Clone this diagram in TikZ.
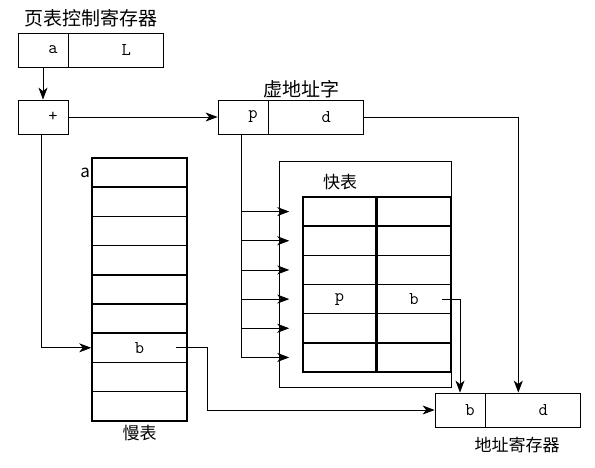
\documentclass[tikz,border=0pt]{standalone}
\usepackage{fontspec}
\newfontfamily\cjk{Noto Sans CJK SC}
\usetikzlibrary{arrows.meta,positioning}

\begin{document}
\begin{tikzpicture}[x=1pt,y=-1pt,>={Stealth[length=12pt,width=9pt,inset=3.5pt]},
  reg/.style={draw,line width=0.8pt,minimum height=34pt,inner sep=0pt},
  txt/.style={label={[font=\ttfamily\fontsize{18}{18}\selectfont,xshift=10pt]center:#1}},
  cell/.style={draw,line width=1.5pt,minimum width=95pt,minimum height=29.2pt,inner sep=0pt,font=\ttfamily\fontsize{18}{18}\selectfont},
  fcell/.style={cell,minimum width=73pt},
  caption/.style={font=\cjk\fontsize{17}{17}\selectfont},
  bigcaption/.style={font=\cjk\fontsize{19}{19}\selectfont},
  line/.style={line width=0.8pt}]
  \useasboundingbox (0,0) rectangle (595,467);

  % registers
  \node[reg,minimum width=50pt,txt=a] (reg-a) at (43,50) {};
  \node[reg,minimum width=95pt,txt=L] (reg-L) [right=0pt of reg-a] {};
  \node[bigcaption] (reg-cap) at (91,18) {页表控制寄存器};
  \node[reg,minimum width=50pt,txt=+] (plus) at (43,117) {};
  \node[reg,minimum width=50pt,txt=p] (va-p) at (243,117) {};
  \node[reg,minimum width=95pt,txt=d] (va-d) [right=0pt of va-p] {};
  \node[bigcaption] (va-cap) at (301,89) {虚地址字};
  \node[reg,minimum width=50pt,txt=b] (ar-b) at (460,410) {};
  \node[reg,minimum width=95pt,txt=d] (ar-d) [right=0pt of ar-b] {};
  \node[caption] (ar-cap) at (517,445) {地址寄存器};

  % slow table
  \foreach \i/\t in {1/,2/,3/,4/,5/,6/,7/b,8/,9/}
    \node[cell] (s\i) at (139.5,{158+29.2*(\i-0.5)}) {\t};
  \node[caption] (s-cap) [below=0pt of s9] {慢表};
  \node[caption,inner sep=1pt] (s-a) [left=0pt of s1] {a};

  % fast table
  \node[draw,line width=1pt,minimum width=172pt,minimum height=226pt] (fast) at (365,274) {};
  \node[caption] (f-cap) at (340,182) {快表};
  \foreach \i/\p/\b in {1//,2//,3//,4/p/b,5//,6//} {
    \node[fcell] (fp\i) at (339.5,{197+29.17*(\i-0.5)}) {\p};
    \node[fcell] (fb\i) [right=0pt of fp\i] {\b};
  }

  % connectors
  \draw[line,->] (reg-a) -- (plus);
  \draw[line,->] (plus) -- (va-p);
  \draw[line,->] ([xshift=-2pt]plus.south) |- (s7.west);
  \draw[line,->] ([xshift=-12pt]s7.east) -- ++(32,0) |- (ar-b.west);
  \draw[line,->] (va-d.east) -| ([xshift=-15pt]ar-d.north);
  \draw[line] ([xshift=-2pt]va-p.south) -- ([xshift=-2pt]va-p.south |- fp6.west);
  \foreach \i in {1,...,6}
    \draw[line,->] ([xshift=-2pt]va-p.south |- fp\i.west) -- ([xshift=-13pt]fp\i.west);
  \draw[line,->] ([xshift=-9pt]fb4.east) -| (ar-b.north);
\end{tikzpicture}
\end{document}
